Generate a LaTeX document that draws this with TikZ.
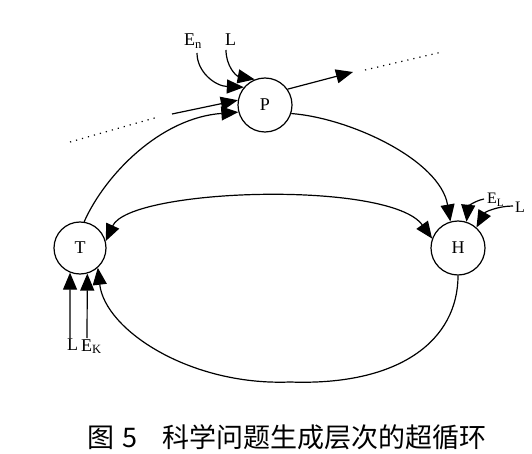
\documentclass[tikz,border=0pt]{standalone}
\usepackage{fontspec}
\setmainfont{Liberation Serif}
\newfontfamily\cjk{Noto Sans CJK SC}
\usetikzlibrary{arrows.meta}
\begin{document}
\begin{tikzpicture}[x=1pt,y=-1pt,
  conn/.style={line width=1.2pt, -{Triangle[length=17pt,width=14pt]}},
  biconn/.style={line width=1.2pt, {Triangle[length=17pt,width=14pt]}-{Triangle[length=17pt,width=14pt]}},
  plain/.style={line width=1.2pt},
  dotline/.style={line width=1.2pt, dash pattern=on 1.2pt off 5pt},
  circ/.style={circle, draw, line width=1.2pt, minimum size=54pt, inner sep=0pt, font=\fontsize{18}{18}\selectfont},
  lab/.style={inner sep=0pt, font=\fontsize{18}{18}\selectfont, anchor=base west},
  captext/.style={inner sep=0pt, anchor=base west, font=\cjk\fontsize{27}{27}\selectfont}]
\useasboundingbox (0,0) rectangle (532,454);
% circles
\node[circ] (P) at (265,105) {P};
\node[circ] (H) at (458,248) {H};
\node[circ,minimum size=52pt] (T) at (80,248) {T};
% labels
\node[lab] (En) at (184,46) {E\textsubscript{n}};
\node[lab] (Lp) at (225,46) {L};
\node[lab] (LT) at (67,350) {L};
\node[lab] (EK) at (81,351) {E\textsubscript{K}};
\node[lab,font=\fontsize{16}{16}\selectfont] (EL) at (487,204) {E\textsubscript{L}};
\node[lab,font=\fontsize{16}{16}\selectfont] (LH) at (515,212) {L};
% coordinates
\coordinate (dA) at (70,142);
\coordinate (dB) at (158,117);
\coordinate (sA) at (172,114);
\coordinate (oB) at (353,72);
\coordinate (dC) at (365,70);
\coordinate (dD) at (442,52);
\coordinate (enS) at (197,53);
\coordinate (lpS) at (226,50);
\coordinate (ltS) at (70,338);
\coordinate (ekS) at (87,338);
\coordinate (elS) at (484,199);
\coordinate (lhS) at (513,206);
\coordinate (bot) at (290,382);
% connectors
\draw[dotline] (dA) -- (dB);
\draw[conn] (sA) -- (P.170);
\draw[conn] (P.35) -- (oB);
\draw[dotline] (dC) -- (dD);
\draw[conn] (enS) .. controls (197,72) and (215,86) .. (P.140);
\draw[conn] (lpS) .. controls (226,66) and (236,76) .. (P.112);
\draw[conn] (T.81) .. controls (105,175) and (160,118) .. (P.195);
\draw[conn] (P.-18) .. controls (350,118) and (440,160) .. (H.106);
\draw[biconn] (T.15) .. controls (130,188) and (390,180) .. (H.160);
\draw[plain] (H.-90) .. controls (458,340) and (400,386) .. (bot);
\draw[conn] (bot) .. controls (190,386) and (105,330) .. (T.-48);
\draw[conn] (ltS) -- (T.-112);
\draw[conn] (ekS) -- (T.-74);
\draw[conn] (elS) .. controls (474,201) and (468,207) .. (H.72);
\draw[conn] (lhS) .. controls (498,206) and (485,212) .. (H.48);
% caption
\node[captext] (c1) at (87,447) {图\hspace{8pt}5};
\node[captext] (c2) at (162,447) {科学问题生成层次的超循环};
\end{tikzpicture}
\end{document}
